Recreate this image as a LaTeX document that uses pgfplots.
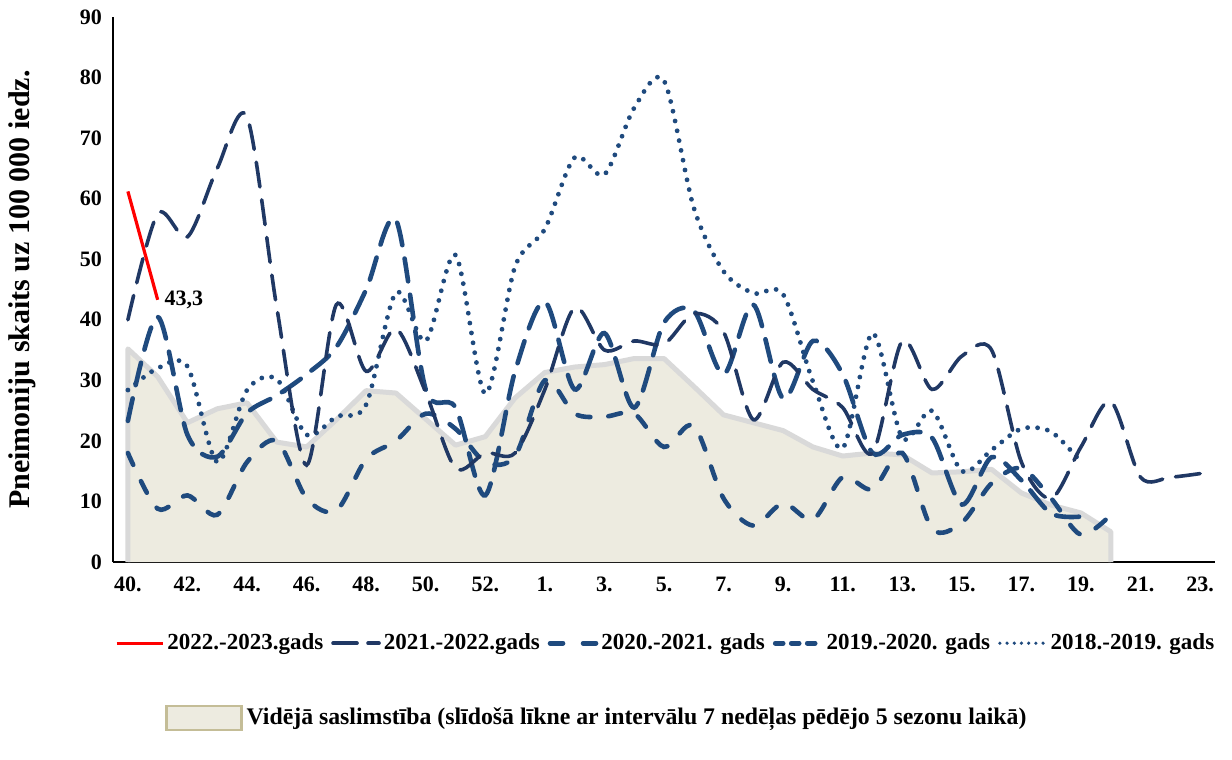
\documentclass[border=0pt]{standalone}
\usepackage{fontspec}
\setmainfont{Liberation Serif}
\usepackage{pgfplots}
\usepackage{pgfplotstable}
\pgfplotsset{compat=1.18}
\definecolor{navyA}{HTML}{203864}
\definecolor{navyB}{HTML}{1F4A7E}
\definecolor{avgfill}{HTML}{EDEBE0}
\definecolor{avgline}{HTML}{D9D9D9}
\definecolor{avgbox}{HTML}{C4BD97}

\pgfplotstableread{
x y
0 35.2
1 30.6
2 23.0
3 25.3
4 26.3
5 19.8
6 19.0
7 23.5
8 28.3
9 27.9
10 23.6
11 19.3
12 20.7
13 27.1
14 31.3
15 32.2
16 32.6
17 33.6
18 33.6
19 29.0
20 24.3
21 23.0
22 21.7
23 19.0
24 17.5
25 18.0
26 17.7
27 14.7
28 14.9
29 15.3
30 11.4
31 9.4
32 8.1
33 5.0
}\avgdata

\pgfplotstableread{
x y
0 0
0 35.2
1 30.6
2 23.0
3 25.3
4 26.3
5 19.8
6 19.0
7 23.5
8 28.3
9 27.9
10 23.6
11 19.3
12 20.7
13 27.1
14 31.3
15 32.2
16 32.6
17 33.6
18 33.6
19 29.0
20 24.3
21 23.0
22 21.7
23 19.0
24 17.5
25 18.0
26 17.7
27 14.7
28 14.9
29 15.3
30 11.4
31 9.4
32 8.1
33 5.0
33 0
}\avgedge

% 2021.-2022.
\pgfplotstableread{
x y
0 40
1 57.5
2 53.7
3 65
4 73.5
5 42
6 16
7 42.5
8 31.5
9 38.5
10 28
11 15.5
12 18
13 18
14 28.5
15 42
16 35
17 36.5
18 36
19 41
20 38
21 23.5
22 33
23 28.5
24 25.5
25 18
26 36.5
27 28.5
28 34
29 35
30 16.5
31 10.5
32 19
33 26.5
34 14
35 14
36 14.6
}\sA

% 2019.-2020.
\pgfplotstableread{
x y
0 23.3
1 40.5
2 21
3 17.4
4 24.6
5 27.5
6 31
7 35.5
8 45
9 56.5
10 28.5
11 25.5
12 11
13 31.5
14 43
15 28.5
16 37.8
17 25.5
18 39.5
19 41.5
20 31
21 42.5
22 27
23 36.5
24 31
25 18
26 21
27 20.5
28 9.5
29 17.3
30 13.5
31 8
32 7.5
}\sB

% 2020.-2021.
\pgfplotstableread{
x y
0 18
1 8.8
2 11
3 7.8
4 16.5
5 20
6 10.5
7 8.5
8 17
9 20
10 24.5
11 22
12 16.5
13 17.5
14 30
15 24.5
16 24
17 24.5
18 19
19 22.5
20 10.5
21 6
22 9.7
23 7
24 14
25 12
26 18
27 5.5
28 6.5
29 13
30 15.5
31 10.5
32 4.5
33 7.8
}\sC

% 2018.-2019.
\pgfplotstableread{
x y
0 28.4
1 32
2 32.3
3 16.5
4 28.4
5 30.2
6 21
7 24
8 26
9 44.5
10 36.5
11 50.7
12 27.8
13 48.8
14 55
15 66.8
16 64
17 75
18 79.5
19 58.5
20 48
21 44.4
22 44.2
23 29.8
24 18.8
25 37.8
26 20.5
27 25
28 15
29 18.5
30 22
31 21.5
32 16.5
}\sD

\begin{document}
\begin{tikzpicture}
\useasboundingbox (-56.5pt,-99pt) rectangle (559.5pt,281pt);
\begin{axis}[
  at={(0pt,0pt)}, anchor=south west,
  scale only axis, width=551pt, height=272.5pt,
  xmin=-0.5, xmax=36.5, ymin=0, ymax=90,
  axis lines*=left, axis line style={-, black, line width=0.8pt},
  xtick={0,2,...,36},
  xticklabels={40.,42.,44.,46.,48.,50.,52.,1.,3.,5.,7.,9.,11.,13.,15.,17.,19.,21.,23.},
  ytick={0,10,...,90},
  major tick length=0pt,
  tick label style={font=\fontsize{11}{13}\selectfont\bfseries},
  /pgf/number format/assume math mode=true,
  xticklabel style={yshift=-4pt},
  yticklabel style={xshift=-2pt},
  ylabel={Pneimoniju skaits uz 100 000 iedz.},
  ylabel style={at={(axis description cs:-0.0826,0.5)}, anchor=center, font=\fontsize{15}{18}\selectfont\bfseries},
  legend columns=5,
  legend style={at={(0.502,-0.149)}, anchor=center, draw=none, fill=none,
    font=\fontsize{11.5}{14}\selectfont\bfseries,
    /tikz/every even column/.append style={column sep=2.5pt},
    inner sep=0pt, nodes={inner xsep=1.5pt}},
  legend image code/.code={\draw[#1] (0pt,0pt) -- (23pt,0pt);},
]
\addplot[forget plot, fill=avgfill, draw=none] table {\avgdata} \closedcycle;
\addplot[forget plot, draw=avgline, line width=2.5pt, line join=round] table {\avgedge};

\addplot[forget plot, smooth, navyB, line width=2.4pt, line cap=round, dash pattern=on 0pt off 5pt] table {\sD};
\addplot[forget plot, smooth, navyB, line width=2.3pt, line cap=round, dash pattern=on 11.5pt off 6.8pt] table {\sB};
\addplot[forget plot, smooth, navyB, line width=2.3pt, line cap=round, dash pattern=on 6.5pt off 9pt] table {\sC};
\addplot[forget plot, smooth, navyA, line width=1.8pt, line cap=round, dash pattern=on 12.5pt off 6.5pt] table {\sA};
\addplot[forget plot, red, line width=1.6pt] coordinates {(0,61.2) (1,43.3)};
\addplot[forget plot, draw=none, mark=none, nodes near coords, point meta=explicit symbolic,
  every node near coord/.append style={anchor=west, font=\fontsize{11}{13}\selectfont\bfseries, black}]
  coordinates {(1,43.3) [43,3]};

\addlegendimage{red, line width=1.6pt}
\addlegendentry{2022.-2023.gads}
\addlegendimage{navyA, line width=1.8pt, line cap=round, dash pattern=on 12pt off 5.5pt}
\addlegendentry{2021.-2022.gads}
\addlegendimage{navyB, line width=2.3pt, line cap=round, dash pattern=on 6.5pt off 10pt}
\addlegendentry{2020.-2021. gads}
\addlegendimage{navyB, line width=2.3pt, line cap=round, dash pattern=on 4pt off 4pt}
\addlegendentry{2019.-2020. gads}
\addlegendimage{navyB, line width=1.8pt, line cap=round, dash pattern=on 0pt off 3.6pt}
\addlegendentry{2018.-2019. gads}
\end{axis}

\begin{axis}[
  at={(0pt,0pt)}, anchor=south west,
  scale only axis, width=551pt, height=272.5pt,
  hide axis, xmin=0, xmax=1, ymin=0, ymax=1,
  legend style={at={(0.44,-0.286)}, anchor=center, draw=none, fill=none,
    font=\fontsize{11.9}{14}\selectfont\bfseries, inner sep=0pt, nodes={inner xsep=2pt}},
  legend image code/.code={\draw[#1] (0pt,-6pt) rectangle (37.5pt,6pt);},
]
\addlegendimage{fill=avgfill, draw=avgbox, line width=1.2pt}
\addlegendentry{Vidējā saslimstība (slīdošā līkne ar intervālu 7 nedēļas pēdējo 5 sezonu laikā)}
\end{axis}
\end{tikzpicture}
\end{document}
